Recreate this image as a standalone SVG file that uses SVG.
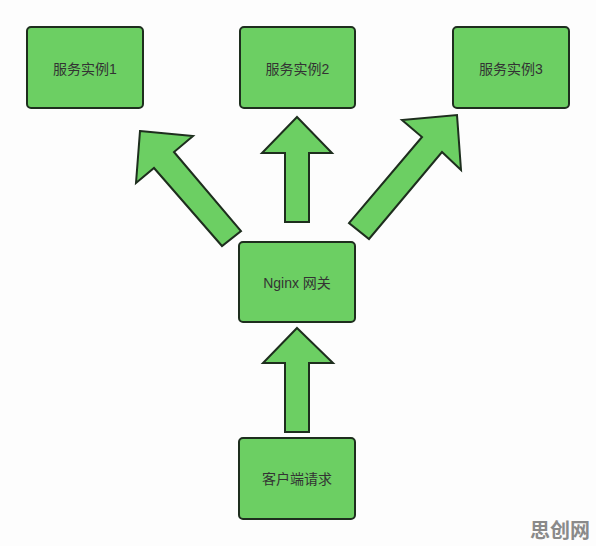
<svg xmlns="http://www.w3.org/2000/svg" width="596" height="546" viewBox="0 0 596 546">
<style>
.box{fill:#6ccf63;stroke:#1e2e1e;stroke-width:2}
.arr{fill:#6ccf63;stroke:#1e2e1e;stroke-width:2;stroke-linejoin:miter}
.lbl{font-family:"Liberation Sans","Noto Sans CJK SC",sans-serif;font-size:14px;fill:#333;text-anchor:middle;dominant-baseline:central}
.wm{font-family:"Noto Sans CJK SC",sans-serif;font-size:20px;font-weight:bold;fill:#8a8a8a}
</style>
<rect width="596" height="546" fill="#fdfdfd"/>
<g id="svc1"><rect class="box" x="27" y="27" width="116" height="81" rx="4"/><text class="lbl" x="85" y="69">服务实例1</text></g>
<g id="svc2"><rect class="box" x="240" y="27" width="115" height="81" rx="4"/><text class="lbl" x="297.5" y="69">服务实例2</text></g>
<g id="svc3"><rect class="box" x="453" y="27" width="116" height="81" rx="4"/><text class="lbl" x="511" y="69">服务实例3</text></g>
<g id="nginx"><rect class="box" x="239" y="242" width="116" height="80" rx="4"/><text class="lbl" x="297" y="283">Nginx 网关</text></g>
<g id="client"><rect class="box" x="239" y="438" width="116" height="81" rx="4"/><text class="lbl" x="297" y="479">客户端请求</text></g>
<g id="connectors">
<polygon class="arr" points="297,328 333,363 309,363 309,432 285,432 285,363 263,363"/>
<polygon class="arr" points="297,117 332,153 309,153 309,222 285,222 285,153 262,153"/>
<polygon class="arr" points="140,131 193,136 174,152 241,231 222,246 154,168 136,183"/>
<polygon class="arr" points="457,115 461,170 442,152 369,239 349,223 422,137 402,120"/>
</g>
<text class="wm" x="530" y="538">思创网</text>
</svg>
